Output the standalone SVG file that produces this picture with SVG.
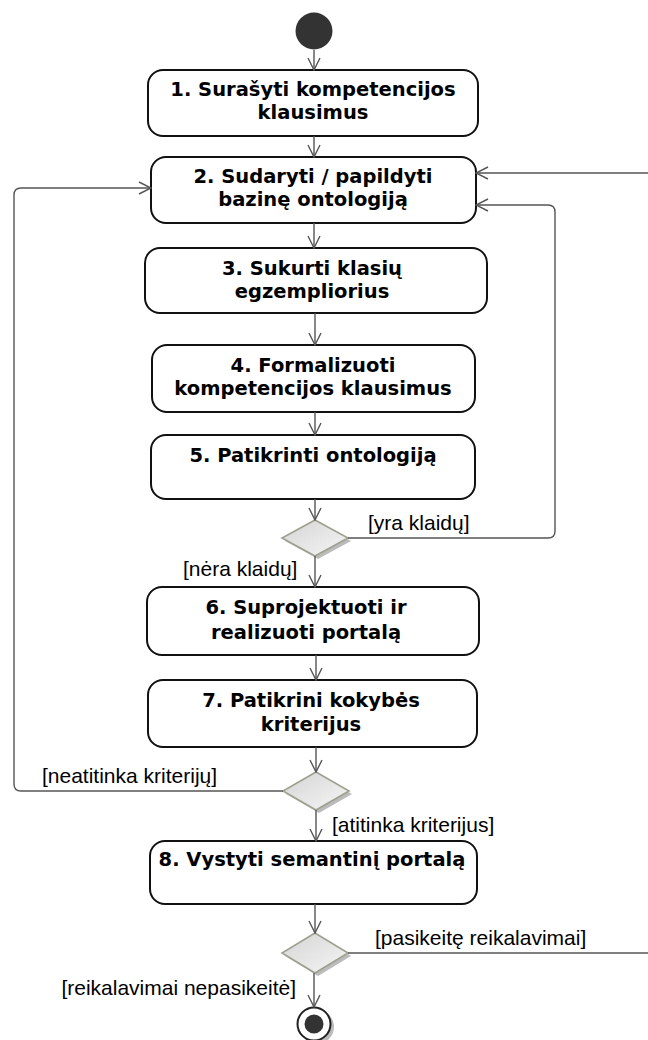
<svg xmlns="http://www.w3.org/2000/svg" width="648" height="1040" viewBox="0 0 648 1040">
  <defs>
    <marker id="open" viewBox="0 0 14 14" refX="13" refY="7" markerWidth="14" markerHeight="14" markerUnits="userSpaceOnUse" orient="auto">
      <path d="M1,1 L13,7 L1,13" fill="none" stroke="#555" stroke-width="1.4"/>
    </marker>
    <linearGradient id="dia" x1="0" y1="0" x2="1" y2="1">
      <stop offset="0" stop-color="#d4d4d4"/>
      <stop offset="1" stop-color="#f6f6f6"/>
    </linearGradient>
    <style>
      .box { fill: #fff; stroke: #111; stroke-width: 2; }
      .t { font-family: "DejaVu Sans", Verdana, sans-serif; font-weight: bold; font-size: 19.5px; fill: #000; text-anchor: middle; }
      .g { font-family: "Liberation Sans", Arial, sans-serif; font-size: 21px; fill: #000; }
      .c { fill: none; stroke: #555; stroke-width: 1.4; marker-end: url(#open); }
      .cn { fill: none; stroke: #555; stroke-width: 1.4; }
      .dia { fill: url(#dia); stroke: #a0a090; stroke-width: 1.6; }
      .sh { fill: #bbb; }
    </style>
  </defs>

  <!-- start node -->
  <g id="start">
    <circle cx="314" cy="31" r="18.5" fill="#333"/>
  </g>

  <!-- actions -->
  <g id="a1">
    <rect class="box" x="148" y="70" width="330" height="66" rx="15"/>
    <text class="t" x="313" y="96">1. Surašyti kompetencijos</text>
    <text class="t" x="313" y="119">klausimus</text>
  </g>
  <g id="a2">
    <rect class="box" x="151" y="157" width="325" height="66" rx="15"/>
    <text class="t" x="313" y="183">2. Sudaryti / papildyti</text>
    <text class="t" x="313" y="206">bazinę ontologiją</text>
  </g>
  <g id="a3">
    <rect class="box" x="145" y="248" width="342" height="65" rx="15"/>
    <text class="t" x="312" y="275">3. Sukurti klasių</text>
    <text class="t" x="312" y="298">egzempliorius</text>
  </g>
  <g id="a4">
    <rect class="box" x="152" y="345" width="323" height="67" rx="15"/>
    <text class="t" x="313" y="372">4. Formalizuoti</text>
    <text class="t" x="313" y="395">kompetencijos klausimus</text>
  </g>
  <g id="a5">
    <rect class="box" x="151" y="435" width="324" height="64" rx="15"/>
    <text class="t" x="313" y="462">5. Patikrinti ontologiją</text>
  </g>
  <g id="a6">
    <rect class="box" x="147" y="587" width="332" height="68" rx="15"/>
    <text class="t" x="306" y="614">6. Suprojektuoti ir</text>
    <text class="t" x="306" y="639">realizuoti portalą</text>
  </g>
  <g id="a7">
    <rect class="box" x="148" y="680" width="329" height="67" rx="15"/>
    <text class="t" x="311" y="707">7. Patikrini kokybės</text>
    <text class="t" x="311" y="731">kriterijus</text>
  </g>
  <g id="a8">
    <rect class="box" x="150" y="841" width="327" height="63" rx="15"/>
    <text class="t" x="312" y="866">8. Vystyti semantinį portalą</text>
  </g>

  <!-- decisions -->
  <g id="d1">
    <path class="sh" d="M318,523 L351,541 L318,559 L285,541 Z"/>
    <path class="dia" d="M315,520 L348,538 L315,556 L282,538 Z"/>
  </g>
  <g id="d2">
    <path class="sh" d="M319,775 L352,794 L319,813 L286,794 Z"/>
    <path class="dia" d="M316,772 L349,791 L316,810 L283,791 Z"/>
  </g>
  <g id="d3">
    <path class="sh" d="M318,936 L351,956 L318,976 L285,956 Z"/>
    <path class="dia" d="M315,933 L348,953 L315,973 L282,953 Z"/>
  </g>

  <!-- final node -->
  <g id="end">
    <circle cx="317" cy="1027" r="17" fill="#bbb"/>
    <circle cx="314" cy="1024" r="16.5" fill="#fff" stroke="#222" stroke-width="2"/>
    <circle cx="314" cy="1024" r="9.5" fill="#333"/>
  </g>

  <!-- connectors -->
  <g id="edges">
    <path class="c" d="M314,50 L314,70"/>
    <path class="c" d="M314,136 L314,157"/>
    <path class="c" d="M314,223 L314,248"/>
    <path class="c" d="M315,313 L315,345"/>
    <path class="c" d="M315,412 L315,435"/>
    <path class="c" d="M315,499 L315,520"/>
    <path class="c" d="M315,556 L315,587"/>
    <path class="c" d="M316,655 L316,680"/>
    <path class="c" d="M316,747 L316,772"/>
    <path class="c" d="M316,810 L316,841"/>
    <path class="c" d="M315,904 L315,933"/>
    <path class="c" d="M314,973 L314,1007"/>
    <!-- [yra klaidų] back to 2 -->
    <path class="c" d="M348,538 L548,538 Q555,538 555,531 L555,212 Q555,205 548,205 L476,205"/>
    <!-- [neatitinka kriterijų] back to 2 -->
    <path class="c" d="M283,791 L21,791 Q14,791 14,784 L14,195 Q14,188 21,188 L151,188"/>
    <!-- [pasikeitę reikalavimai] back to 2 (routed beyond the right edge) -->
    <path class="cn" d="M348,953 L648,953"/>
    <path class="c" d="M648,173 L476,173"/>
  </g>

  <!-- guards -->
  <g id="guards">
    <text class="g" x="368" y="530">[yra klaidų]</text>
    <text class="g" x="183" y="576">[nėra klaidų]</text>
    <text class="g" x="42" y="783">[neatitinka kriterijų]</text>
    <text class="g" x="332" y="832">[atitinka kriterijus]</text>
    <text class="g" x="375" y="945">[pasikeitę reikalavimai]</text>
    <text class="g" x="296" y="995" text-anchor="end">[reikalavimai nepasikeitė]</text>
  </g>
</svg>
